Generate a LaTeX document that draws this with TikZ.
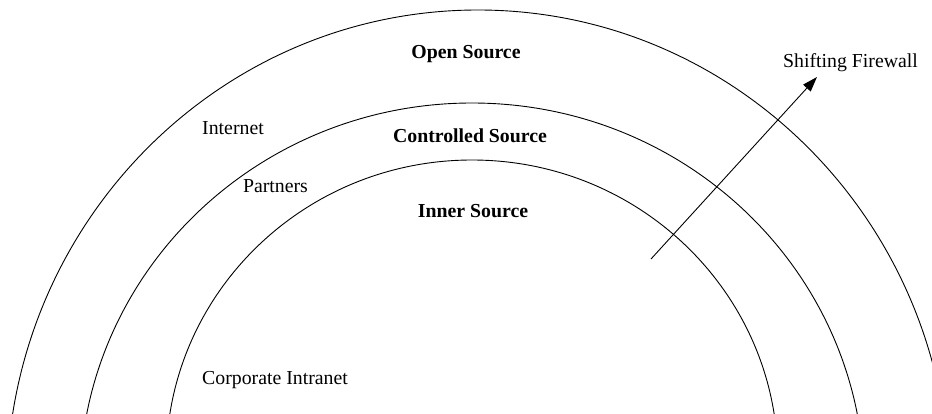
\documentclass[tikz,border=0pt]{standalone}
\usepackage{fontspec}
\setmainfont{Liberation Serif}
\usetikzlibrary{arrows.meta}
\tikzset{
  ring/.style={line width=0.9pt, black},
  lbl/.style={anchor=base, inner sep=0pt, font=\fontsize{19.8}{24}\selectfont},
  blbl/.style={lbl, font=\fontsize{19.8}{24}\selectfont\bfseries},
  fwarrow/.style={line width=0.9pt, -{Triangle[length=15pt,width=10pt]}}
}
\begin{document}
\begin{tikzpicture}[x=1pt,y=-1pt]
\useasboundingbox (0,0) rectangle (932,414);
\begin{scope}
  \clip (0,0) rectangle (932,414);
  \draw[ring] (478,491) ellipse [x radius=471.4, y radius=481];
  \draw[ring] (472,486.5) ellipse [x radius=392.3, y radius=383.5];
  \draw[ring] (472,460.4) ellipse [x radius=305.8, y radius=300.4];
\end{scope}
\node[blbl] (open) at (466,59) {Open Source};
\node[blbl] (controlled) at (470,143) {Controlled Source};
\node[blbl] (inner) at (473,218) {Inner Source};
\node[lbl] (internet) at (233,135) {Internet};
\node[lbl] (partners) at (275.5,193) {Partners};
\node[lbl] (intranet) at (275,384) {Corporate Intranet};
\node[lbl] (firewall) at (850.5,68) {Shifting Firewall};
\coordinate (fwstart) at (651,259);
\coordinate (fwtip) at (817,77);
\draw[fwarrow] (fwstart) -- (fwtip);
\end{tikzpicture}
\end{document}
